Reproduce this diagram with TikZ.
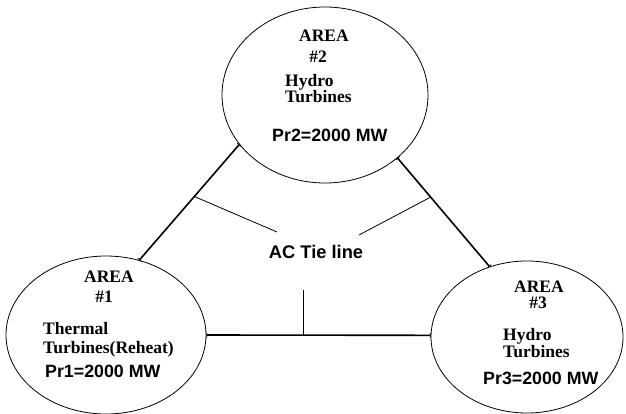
\documentclass[tikz,border=0pt]{standalone}
\usepackage{fontspec}
\setmainfont{Liberation Serif}
\newfontfamily\arialb{Liberation Sans}
\usetikzlibrary{shapes.geometric,arrows.meta}
\begin{document}
\begin{tikzpicture}[x=1pt,y=-1pt,
  area/.style={draw, ellipse, line width=0.8pt, inner sep=0pt},
  tie/.style={line width=1.6pt, {Bar[width=5pt,line width=0.8pt]}-{Bar[width=5pt,line width=0.8pt]}},
  lbl/.style={line width=0.8pt},
  serif/.style={font=\fontsize{17.5}{20}\selectfont\bfseries, inner sep=0pt, anchor=base},
  serifw/.style={serif, anchor=base west},
  sans/.style={font=\arialb\fontsize{17.8}{22}\selectfont\bfseries, inner sep=0pt, anchor=base west}]
\useasboundingbox (0,0) rectangle (626,414);
\fill[white] (0,0) rectangle (626,414);

\node[area, minimum width=206pt, minimum height=176pt] (a2) at (325,95) {};
\node[area, minimum width=200pt, minimum height=158pt] (a1) at (106,335) {};
\node[area, minimum width=192pt, minimum height=152pt] (a3) at (527,337) {};

\draw[tie] (a2.210) -- coordinate[pos=0.45] (s1) (a1.66);
\draw[tie] (a2.319) -- coordinate[pos=0.36] (s2) (a3.118);
\draw[tie] (a1.east) -- coordinate[pos=0.434] (s3) (a3.179);

\node[sans, anchor=base, font=\arialb\fontsize{18.3}{22}\selectfont\bfseries] (tie) at (316,258) {AC Tie line};
\coordinate (e1) at (277,232);
\coordinate (e2) at (359,235);
\coordinate (h) at (0,290);
\coordinate (e3) at (s3 |- h);
\draw[lbl] (s1) -- (e1);
\draw[lbl] (s2) -- (e2);
\draw[lbl] (s3) -- (e3);

% area 2
\node[serif] (t2a) at (324,42) {AREA};
\node[serif] (t2b) at (318,63) {\#2};
\node[serifw] (t2c) at (285,87) {Hydro};
\node[serifw] (t2d) at (285,103) {Turbines};
\node[sans] (t2e) at (272,142) {Pr2=2000 MW};
% area 1
\node[serif] (t1a) at (109,282) {AREA};
\node[serif] (t1b) at (104,302) {\#1};
\node[serifw] (t1c) at (43,334) {Thermal};
\node[serifw] (t1d) at (43,353) {Turbines(Reheat)};
\node[sans] (t1e) at (45,377) {Pr1=2000 MW};
% area 3
\node[serif] (t3a) at (539,292) {AREA};
\node[serif] (t3b) at (538,308) {\#3};
\node[serifw] (t3c) at (503,340) {Hydro};
\node[serifw] (t3d) at (503,357) {Turbines};
\node[sans] (t3e) at (483,384) {Pr3=2000 MW};
\end{tikzpicture}
\end{document}
